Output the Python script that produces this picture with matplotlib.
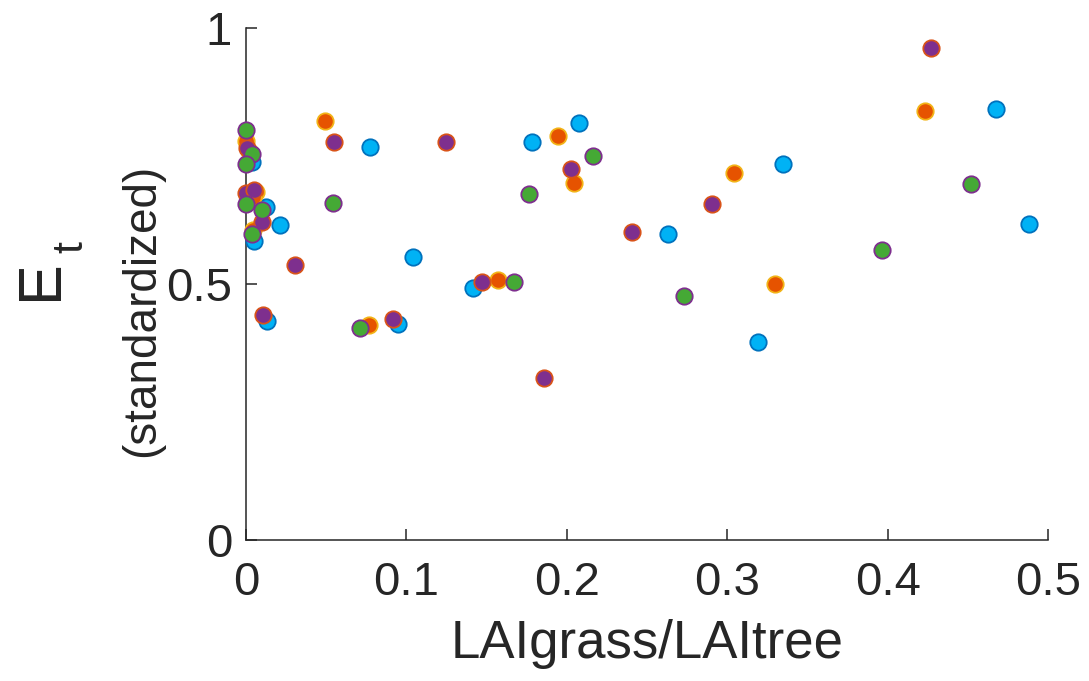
import matplotlib.pyplot as plt

# ---------------------
# DATA
# ---------------------
blue_x = [0.0773, 0.0948, 0.104, 0.1415, 0.178, 0.2075, 0.263, 0.319, 0.335,
          0.4676, 0.488, 0.0212, 0.013, 0.0125, 0.005, 0.004]
blue_y = [0.768, 0.422, 0.553, 0.492, 0.777, 0.815, 0.598, 0.387, 0.734,
          0.842, 0.617, 0.615, 0.428, 0.650, 0.584, 0.738]

orange_x = [0.000, 0.002, 0.006, 0.0045, 0.0045, 0.049, 0.0767, 0.157, 0.1945,
            0.2045, 0.304, 0.330, 0.4233]
orange_y = [0.780, 0.760, 0.680, 0.670, 0.605, 0.818, 0.420, 0.508, 0.789,
            0.697, 0.717, 0.500, 0.838]

purple_x = [0.0005, 0.000, 0.005, 0.010, 0.0105, 0.0306, 0.0549, 0.0914, 0.1245,
            0.147, 0.2025, 0.1855, 0.2407, 0.2905, 0.427]
purple_y = [0.765, 0.678, 0.684, 0.621, 0.439, 0.537, 0.777, 0.432, 0.777,
            0.504, 0.725, 0.317, 0.602, 0.657, 0.961]

green_x = [0.000, 0.004, 0.000, 0.000, 0.010, 0.004, 0.054, 0.0711, 0.167,
           0.1765, 0.2165, 0.273, 0.3965, 0.452]
green_y = [0.800, 0.754, 0.734, 0.656, 0.645, 0.598, 0.659, 0.414, 0.504,
           0.676, 0.750, 0.476, 0.566, 0.695]

x_ticks = [0, 0.1, 0.2, 0.3, 0.4, 0.5]
x_tick_labels = ["0", "0.1", "0.2", "0.3", "0.4", "0.5"]
y_ticks = [0, 0.5, 1]
y_tick_labels = ["0", "0.5", "1"]

# fill, edge
SERIES = [
    (blue_x, blue_y, "#00B2F5", "#0072BD"),
    (orange_x, orange_y, "#E65300", "#F2B316"),
    (purple_x, purple_y, "#7E2F8E", "#D95319"),
    (green_x, green_y, "#45A935", "#7E2F8E"),
]

AXIS_COLOR = "#262626"


def main():
    plt.rcParams["font.family"] = ["Liberation Sans", "DejaVu Sans"]

    fig = plt.figure(figsize=(10.89, 6.81), dpi=100)
    ax = fig.add_axes([0.2259, 0.2070, 0.7365, 0.7519])

    for xs, ys, fill, edge in SERIES:
        ax.plot(xs, ys, linestyle="none", marker="o", markersize=11.8,
                markerfacecolor=fill, markeredgecolor=edge,
                markeredgewidth=1.3, clip_on=False, zorder=3)

    ax.set_xlim(0, 0.5)
    ax.set_ylim(0, 1)
    ax.set_xticks(x_ticks)
    ax.set_xticklabels(x_tick_labels)
    ax.set_yticks(y_ticks)
    ax.set_yticklabels(y_tick_labels)

    for side in ("top", "right"):
        ax.spines[side].set_visible(False)
    for side in ("left", "bottom"):
        ax.spines[side].set_color(AXIS_COLOR)
        ax.spines[side].set_linewidth(1.1)

    ax.tick_params(axis="x", direction="in", length=8, width=1.1,
                   color=AXIS_COLOR, labelsize=34, labelcolor=AXIS_COLOR, pad=15)
    ax.tick_params(axis="y", direction="in", length=8, width=1.1,
                   color=AXIS_COLOR, labelsize=34, labelcolor=AXIS_COLOR, pad=10)

    ax.set_xlabel("LAIgrass/LAItree", fontsize=38, color=AXIS_COLOR, labelpad=10)

    # two-line y label: large E with a dropped subscript t, then (standardized)
    fig.text(142 / 1089, 1 - 310 / 681, "(standardized)", rotation=90,
             ha="center", va="center", fontsize=33, color=AXIS_COLOR)
    fig.text(42 / 1089, 1 - 280 / 681, "E", rotation=90,
             ha="center", va="center", fontsize=44, color=AXIS_COLOR)
    fig.text(71 / 1089, 1 - 247 / 681, "t", rotation=90,
             ha="center", va="center", fontsize=31, color=AXIS_COLOR)

    fig.savefig("out.png", dpi=100)
    plt.close(fig)


if __name__ == "__main__":
    main()
